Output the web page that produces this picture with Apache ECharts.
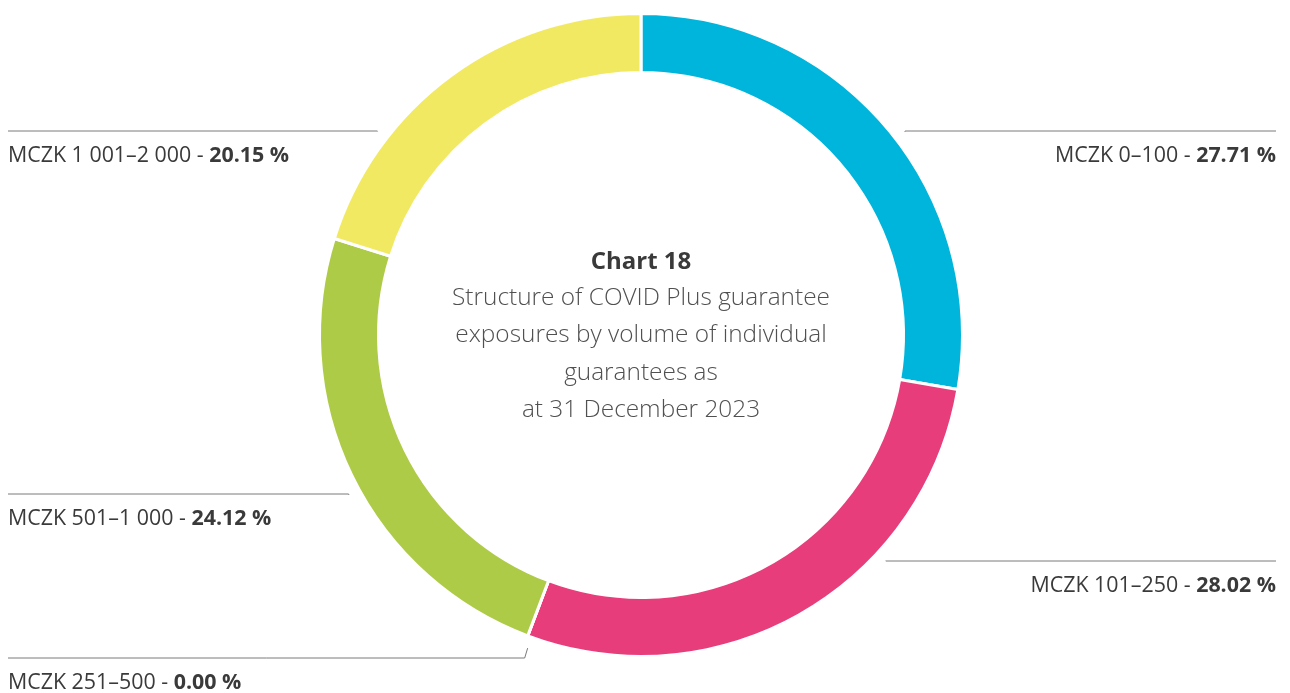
<!DOCTYPE html>
<html>
<head>
<meta charset="utf-8">
<title>Chart 18</title>
<script src="https://cdn.jsdelivr.net/npm/echarts@6/dist/echarts.min.js"></script>
<style>
  html, body { margin: 0; padding: 0; background: #ffffff; }
  #chart { width: 1290px; height: 693px; }
</style>
</head>
<body>
<div id="chart"></div>
<script>
// Guarantee exposure bands and their share of the total (%)
const categories = ['MCZK 0–100', 'MCZK 101–250', 'MCZK 251–500', 'MCZK 501–1 000', 'MCZK 1 001–2 000'];
const shares = [27.71, 28.02, 0.00, 24.12, 20.15];
const colors = ['#00b5dc', '#e83d7b', '#aecb48', '#aecb48', '#f2e963'];

const titleText = 'Chart 18';
const subtitleLines = [
  'Structure of COVID Plus guarantee',
  'exposures by volume of individual',
  'guarantees as',
  'at 31 December 2023'
];

// Ring geometry
const CENTER = [641, 335];
const R_OUTER = 320;
const R_INNER = 264;
const BORDER = 3;

// Where each callout leaves the ring (degrees clockwise from 12 o'clock),
// the height of its rule, and the gap between ring and rule
const calloutAngle = [52.4, 132.7, 199.9, 241.3, 307.7];
const calloutRuleY = [131, 561, 658, 494, 131];
const calloutGap = 13;
const EDGE_LEFT = 8;
const EDGE_RIGHT_PAD = 14;

const chart = echarts.init(document.getElementById('chart'), null, { renderer: 'canvas' });

const textColor = '#3a3a3a';
const LABEL_SIZE = 21.4;

const data = categories.map((name, i) => ({
  name: name,
  value: shares[i],
  itemStyle: { color: colors[i] }
}));

function calloutLayout(params) {
  const i = params.dataIndex;
  const W = chart.getWidth();
  const a = calloutAngle[i] * Math.PI / 180;
  const rho = R_OUTER + calloutGap;
  const ax = CENTER[0] + rho * Math.sin(a);
  const ay = CENTER[1] - rho * Math.cos(a);
  const ruleY = calloutRuleY[i];
  const right = Math.sin(a) > 0;
  const edgeX = right ? W - EDGE_RIGHT_PAD : EDGE_LEFT;
  const drop = Math.abs(ruleY - ay);
  const bendX = ax + (right ? 1 : -1) * drop * 0.3;
  return {
    x: edgeX,
    y: ruleY + 25,
    align: right ? 'right' : 'left',
    verticalAlign: 'middle',
    labelLinePoints: [[ax, ay], [bendX, ruleY], [edgeX, ruleY]]
  };
}

chart.setOption({
  backgroundColor: '#ffffff',
  animation: false,
  title: {
    text: titleText,
    subtext: subtitleLines.join('\n'),
    left: CENTER[0],
    top: 247,
    textAlign: 'center',
    padding: 0,
    itemGap: 2,
    textStyle: {
      fontFamily: 'Open Sans',
      fontWeight: 'bold',
      fontSize: 24,
      lineHeight: 30,
      color: '#3a3a3a'
    },
    subtextStyle: {
      fontFamily: 'Open Sans',
      fontWeight: 300,
      fontSize: 24.4,
      lineHeight: 37.5,
      color: '#505050'
    }
  },
  series: [{
    type: 'pie',
    center: CENTER,
    radius: [R_INNER - BORDER / 2, R_OUTER + BORDER / 2],
    startAngle: 90,
    clockwise: true,
    avoidLabelOverlap: false,
    silent: true,
    itemStyle: { borderColor: '#ffffff', borderWidth: BORDER },
    emphasis: { disabled: true },
    data: data,
    label: {
      show: true,
      position: 'outside',
      fontFamily: 'Open Sans',
      fontSize: LABEL_SIZE,
      color: textColor,
      formatter: p => '{n|' + p.name + ' - }{b|' + p.value.toFixed(2) + ' %}',
      rich: {
        n: { fontFamily: 'Open Sans', fontSize: LABEL_SIZE, color: textColor },
        b: { fontFamily: 'Open Sans', fontSize: LABEL_SIZE, fontWeight: 'bold', color: textColor }
      }
    },
    labelLine: {
      show: true,
      length: 10,
      length2: 10,
      lineStyle: { color: '#7a7a7a', width: 1 }
    },
    labelLayout: calloutLayout
  }]
});
</script>
</body>
</html>
